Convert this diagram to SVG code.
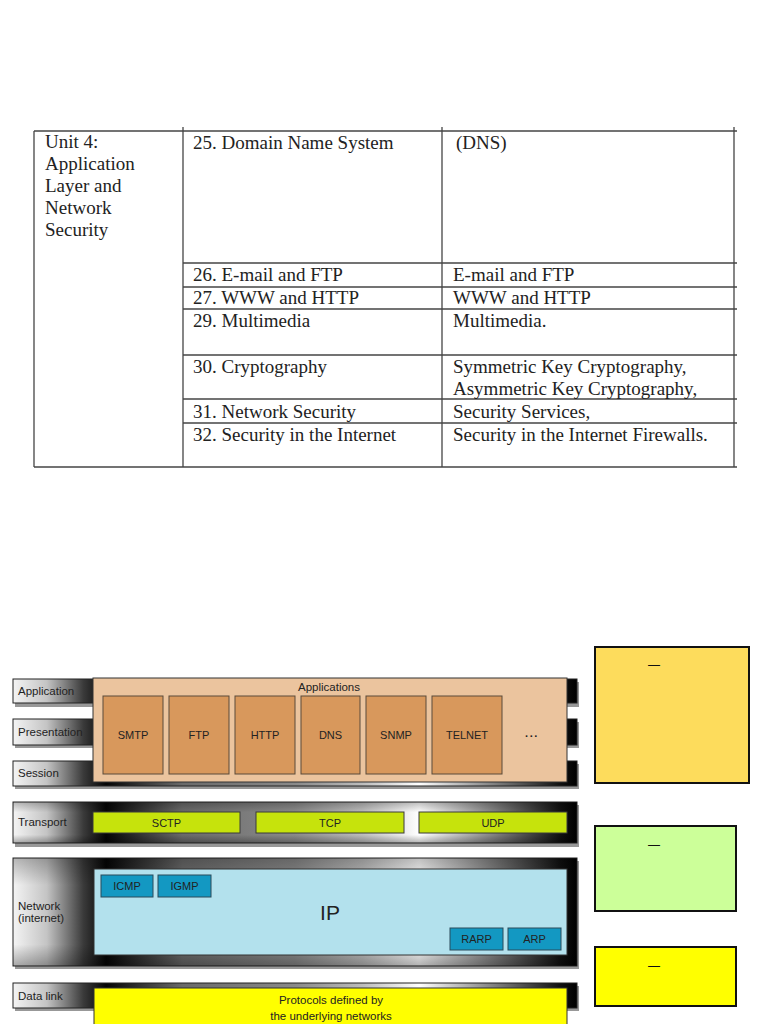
<svg xmlns="http://www.w3.org/2000/svg" width="768" height="1024" viewBox="0 0 768 1024">
<defs>
<linearGradient id="bar" gradientUnits="userSpaceOnUse" x1="13" y1="0" x2="577" y2="0">
<stop offset="0" stop-color="#f4f4f4"/>
<stop offset="0.06" stop-color="#c4c4c4"/>
<stop offset="0.125" stop-color="#3a3a3a"/>
<stop offset="0.165" stop-color="#050505"/>
<stop offset="0.3" stop-color="#6a6a6a"/>
<stop offset="0.5" stop-color="#8a8a8a"/>
<stop offset="0.62" stop-color="#bdbdbd"/>
<stop offset="0.72" stop-color="#ffffff"/>
<stop offset="0.86" stop-color="#7a7a7a"/>
<stop offset="0.97" stop-color="#111"/>
<stop offset="1" stop-color="#000"/>
</linearGradient>
<linearGradient id="vshade" x1="0" y1="0" x2="0" y2="1">
<stop offset="0" stop-color="#000" stop-opacity="0.25"/>
<stop offset="0.25" stop-color="#000" stop-opacity="0"/>
<stop offset="0.8" stop-color="#000" stop-opacity="0"/>
<stop offset="1" stop-color="#000" stop-opacity="0.3"/>
</linearGradient>
</defs>
<style>
.t{font-family:"Liberation Serif","Times New Roman",serif;font-size:19px;fill:#222}
.ln{stroke:#444;stroke-width:1.3;fill:none}
.s{font-family:"Liberation Sans",Arial,sans-serif;font-size:11.5px;fill:#222}
.b{font-family:"Liberation Sans",Arial,sans-serif;font-size:11px;fill:#222;text-anchor:middle}
.bar{fill:url(#bar);stroke:#222;stroke-width:1}
.sh{fill:#444;opacity:0.55}
.app{fill:#d8985c;stroke:#5a4a3a;stroke-width:1}
.grn{fill:#c6e30c;stroke:#3a3a3a;stroke-width:1}
.blu{fill:#1398c2;stroke:#2a4a5a;stroke-width:1}
.note{stroke:#111;stroke-width:2}
.dash{font-family:"Liberation Sans",Arial,sans-serif;font-size:12px;fill:#111;text-anchor:middle}
</style>
<rect width="768" height="1024" fill="#fff"/>

<g id="table">
<line class="ln" x1="34" y1="131" x2="737" y2="131"/>
<line class="ln" x1="34" y1="467" x2="737" y2="467"/>
<line class="ln" x1="34" y1="131" x2="34" y2="467"/>
<line class="ln" x1="183" y1="127" x2="183" y2="467"/>
<line class="ln" x1="442" y1="127" x2="442" y2="467"/>
<line class="ln" x1="734" y1="127" x2="734" y2="467"/>
<line class="ln" x1="183" y1="263" x2="737" y2="263" stroke-width="1"/>
<line class="ln" x1="183" y1="287" x2="737" y2="287" stroke-width="1"/>
<line class="ln" x1="183" y1="309" x2="737" y2="309"/>
<line class="ln" x1="183" y1="355" x2="737" y2="355"/>
<line class="ln" x1="183" y1="399" x2="737" y2="399" stroke-width="1"/>
<line class="ln" x1="183" y1="423" x2="737" y2="423" stroke-width="1"/>
<text class="t" x="45" y="148">Unit 4:</text>
<text class="t" x="45" y="170">Application</text>
<text class="t" x="45" y="192">Layer and</text>
<text class="t" x="45" y="214">Network</text>
<text class="t" x="45" y="236">Security</text>
<text class="t" x="193" y="149">25. Domain Name System</text>
<text class="t" x="456" y="149">(DNS)</text>
<text class="t" x="193" y="281">26. E-mail and FTP</text>
<text class="t" x="453" y="281">E-mail and FTP</text>
<text class="t" x="193" y="304">27. WWW and HTTP</text>
<text class="t" x="453" y="304">WWW and HTTP</text>
<text class="t" x="193" y="327">29. Multimedia</text>
<text class="t" x="453" y="327">Multimedia.</text>
<text class="t" x="193" y="373">30. Cryptography</text>
<text class="t" x="453" y="373">Symmetric Key Cryptography,</text>
<text class="t" x="453" y="395">Asymmetric Key Cryptography,</text>
<text class="t" x="193" y="418">31. Network Security</text>
<text class="t" x="453" y="418">Security Services,</text>
<text class="t" x="193" y="441">32. Security in the Internet</text>
<text class="t" x="453" y="441">Security in the Internet Firewalls.</text>
</g>

<g id="upper-layers">
<rect class="sh" x="15" y="682" width="564" height="25"/>
<rect class="bar" x="13" y="679" width="564" height="24"/>
<rect class="sh" x="15" y="722" width="564" height="26"/>
<rect class="bar" x="13" y="719" width="564" height="26"/>
<rect class="sh" x="15" y="764" width="564" height="25"/>
<rect class="bar" x="13" y="761" width="564" height="25"/>
<rect x="93" y="678" width="474" height="104" fill="#ebc49e" stroke="#333" stroke-width="1"/>
<text class="s" x="18" y="695">Application</text>
<text class="s" x="18" y="736">Presentation</text>
<text class="s" x="18" y="777">Session</text>
<text class="s" x="298" y="691">Applications</text>
</g>
<g id="smtp"><rect class="app" x="103" y="696" width="60" height="78"/><text class="b" x="133" y="739">SMTP</text></g>
<g id="ftp"><rect class="app" x="169" y="696" width="60" height="78"/><text class="b" x="199" y="739">FTP</text></g>
<g id="http"><rect class="app" x="235" y="696" width="60" height="78"/><text class="b" x="265" y="739">HTTP</text></g>
<g id="dns"><rect class="app" x="301" y="696" width="59" height="78"/><text class="b" x="330.5" y="739">DNS</text></g>
<g id="snmp"><rect class="app" x="366" y="696" width="60" height="78"/><text class="b" x="396" y="739">SNMP</text></g>
<g id="telnet"><rect class="app" x="432" y="696" width="70" height="78"/><text class="b" x="467" y="739">TELNET</text></g>
<g id="more"><text class="b" x="532" y="740" font-size="18" font-weight="bold" letter-spacing="1">···</text></g>

<g id="transport">
<rect class="sh" x="15" y="805" width="564" height="42"/>
<rect class="bar" x="13" y="802" width="564" height="41"/>
<rect x="13" y="802" width="564" height="41" fill="url(#vshade)"/>
<text class="s" x="18" y="826">Transport</text>
</g>
<g id="sctp"><rect class="grn" x="93" y="812" width="147" height="21"/><text class="b" x="166.5" y="826.5">SCTP</text></g>
<g id="tcp"><rect class="grn" x="256" y="812" width="148" height="21"/><text class="b" x="330" y="826.5">TCP</text></g>
<g id="udp"><rect class="grn" x="419" y="812" width="148" height="21"/><text class="b" x="493" y="826.5">UDP</text></g>

<g id="network">
<rect class="sh" x="15" y="861" width="564" height="108"/>
<rect class="bar" x="13" y="858" width="564" height="108"/>
<rect x="13" y="858" width="564" height="108" fill="url(#vshade)"/>
<rect x="94" y="869" width="473" height="86" fill="#b3e1ed" stroke="#333" stroke-width="1"/>
<text class="s" x="18" y="910">Network</text>
<text class="s" x="18" y="922">(internet)</text>
<text x="330" y="920" font-family="Liberation Sans,Arial,sans-serif" font-size="21" fill="#222" text-anchor="middle">IP</text>
</g>
<g id="icmp"><rect class="blu" x="101" y="875" width="52" height="22"/><text class="b" x="127" y="890">ICMP</text></g>
<g id="igmp"><rect class="blu" x="158" y="875" width="53" height="22"/><text class="b" x="184.5" y="890">IGMP</text></g>
<g id="rarp"><rect class="blu" x="450" y="928" width="53" height="22"/><text class="b" x="476.5" y="943">RARP</text></g>
<g id="arp"><rect class="blu" x="508" y="928" width="53" height="22"/><text class="b" x="534.5" y="943">ARP</text></g>

<g id="datalink">
<rect class="sh" x="15" y="986" width="564" height="25"/>
<rect class="bar" x="13" y="983" width="564" height="25"/>
<rect x="94" y="988" width="473" height="40" fill="#ffff00" stroke="#333" stroke-width="1"/>
<text class="s" x="18" y="1000">Data link</text>
<text class="s" x="331" y="1004" text-anchor="middle">Protocols defined by</text>
<text class="s" x="331" y="1020" text-anchor="middle">the underlying networks</text>
</g>

<g id="note-app"><rect class="note" x="595" y="647" width="154" height="136" fill="#fddc5c"/><text class="dash" x="654" y="669">—</text></g>
<g id="note-transport"><rect class="note" x="595" y="826" width="141" height="85" fill="#ccff99"/><text class="dash" x="654" y="849">—</text></g>
<g id="note-datalink"><rect class="note" x="595" y="947" width="141" height="59" fill="#ffff00"/><text class="dash" x="654" y="970">—</text></g>
</svg>
